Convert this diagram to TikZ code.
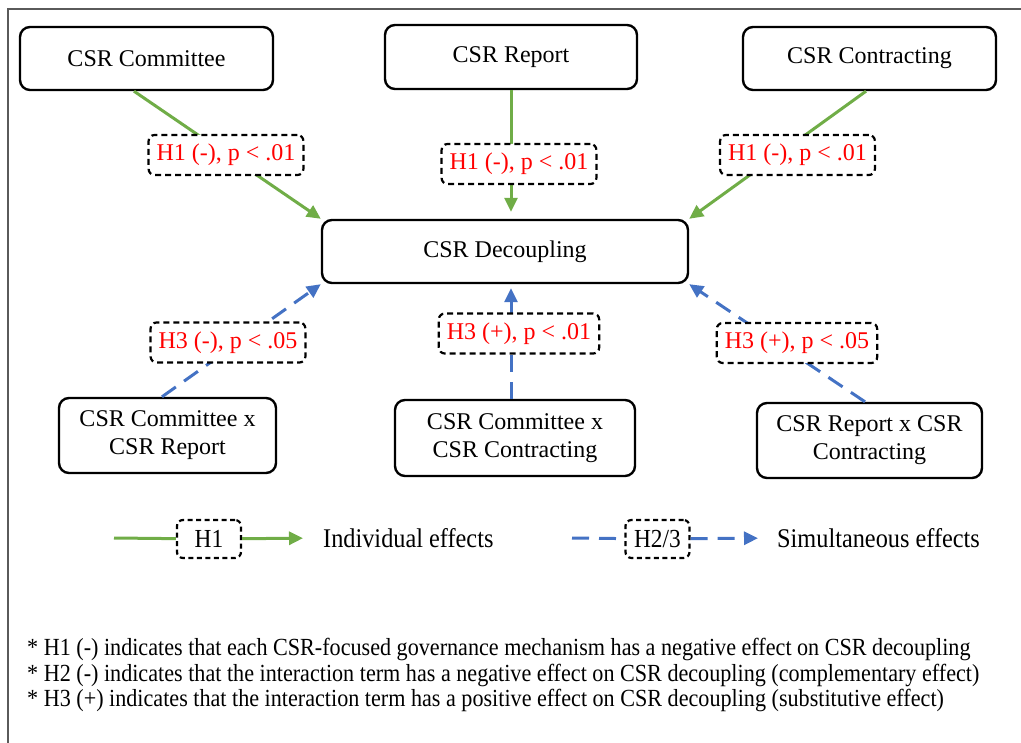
\documentclass[tikz,border=0pt]{standalone}
\usepackage{fontspec}
\usepackage{xcolor}
\usetikzlibrary{arrows.meta, positioning, calc}
\setmainfont{Liberation Serif}
\newfontfamily\narrowfont[FakeStretch=0.9]{Liberation Serif}
\definecolor{effgreen}{RGB}{112,173,71}
\definecolor{effblue}{RGB}{68,114,196}
\definecolor{framegray}{RGB}{90,90,90}

\tikzset{
    box/.style={draw, rounded corners=10pt, line width=2.4pt, align=center, inner sep=0pt,
        font=\fontsize{24}{28}\selectfont},
    hyp/.style={draw, dash pattern=on 6pt off 4pt, line width=2.2pt, rounded corners=6pt, fill=white,
        text=red, inner xsep=8pt, minimum height=40pt, font=\fontsize{24}{28}\selectfont},
    keybox/.style={draw, dash pattern=on 5pt off 3.5pt, line width=2.2pt, rounded corners=6pt, fill=white,
        minimum width=64pt, minimum height=38pt, inner sep=0pt, font=\narrowfont\fontsize{26}{30}\selectfont},
    keytext/.style={anchor=west, inner sep=0pt, font=\narrowfont\fontsize{27}{30}\selectfont},
    note/.style={anchor=west, inner sep=0pt, font=\narrowfont\fontsize{24.6}{27}\selectfont},
    indiv/.style={draw=effgreen, line width=3pt, -{Triangle[length=14pt,width=13pt]}},
    simul/.style={draw=effblue, line width=3pt, dash pattern=on 17pt off 10pt, -{Triangle[length=14pt,width=13pt]}}
}

\begin{document}
\begin{tikzpicture}[x=1pt, y=-1pt]
    \useasboundingbox (0,0) rectangle (1021,743);
    \draw[line width=1.2pt, framegray] (8,743) -- (8,9) -- (1021,9);

    % Mechanisms
    \node[box, minimum width=253pt, minimum height=63pt] (comm) at (146.5,58.5) {CSR Committee};
    \node[box, minimum width=252pt, minimum height=64pt] (rep) at (511,57) {CSR Report};
    \node[box, minimum width=253pt, minimum height=63pt] (cont) at (869.5,58.5) {CSR Contracting};

    % Outcome
    \node[box, minimum width=366pt, minimum height=63pt] (dec) at (505,251.5) {CSR Decoupling};

    % Interaction terms
    \node[box, minimum width=217pt, minimum height=75pt] (cxr) at (167.5,435.5) {CSR Committee x\\CSR Report};
    \node[box, minimum width=240pt, minimum height=76pt] (cxc) at (515,438) {CSR Committee x\\CSR Contracting};
    \node[box, minimum width=225pt, minimum height=75pt] (rxc) at (869.5,440.5) {CSR Report x CSR\\Contracting};

    % Paths
    \draw[indiv] ([xshift=-12.5pt]comm.south) -- (dec.north west);
    \draw[indiv] (rep.south) -- (rep.south |- dec.north) [shorten >=7pt];
    \draw[indiv] ([xshift=-3.5pt]cont.south) -- (dec.north east);
    \draw[simul] ([xshift=-5.5pt]cxr.north) -- (dec.south west);
    \draw[simul] ([xshift=-4pt]cxc.north) -- ([xshift=-4pt]cxc.north |- dec.south) [shorten >=4pt];
    \draw[simul] ([xshift=-4.5pt]rxc.north) -- (dec.south east);

    % Hypotheses
    \node[hyp] (h1comm) at (226,155) {H1 (-), p < .01};
    \node[hyp] (h1rep) at (519,164) {H1 (-), p < .01};
    \node[hyp] (h1cont) at (797.5,155) {H1 (-), p < .01};
    \node[hyp] (h3cxr) at (228,342.5) {H3 (-), p < .05};
    \node[hyp] (h3cxc) at (519,333.5) {H3 (+), p < .01};
    \node[hyp] (h3rxc) at (797,343) {H3 (+), p < .05};

    % Legend
    \node[keybox] (key1) at (209,539) {H1};
    \node[keytext] (key1txt) at (323,538) {Individual effects};
    \coordinate (key1in) at (114,538);
    \draw[indiv, -] (key1in) -- (key1);
    \draw[indiv] (key1) -- (key1txt.west) [shorten >=20pt];

    \node[keybox] (key2) at (657.5,539) {H2/3};
    \node[keytext] (key2txt) at (777,538) {Simultaneous effects};
    \coordinate (key2in) at (572,538);
    \draw[simul, -] (key2in) -- (key2);
    \draw[simul] (key2) -- (key2txt.west) [shorten >=19pt];

    % Notes
    \node[note] (note1) at (27,649) {* H1 (-) indicates that each CSR-focused governance mechanism has a negative effect on CSR decoupling};
    \node[note] (note2) at (27,675) {* H2 (-) indicates that the interaction term has a negative effect on CSR decoupling (complementary effect)};
    \node[note] (note3) at (27,700) {* H3 (+) indicates that the interaction term has a positive effect on CSR decoupling (substitutive effect)};
\end{tikzpicture}
\end{document}
